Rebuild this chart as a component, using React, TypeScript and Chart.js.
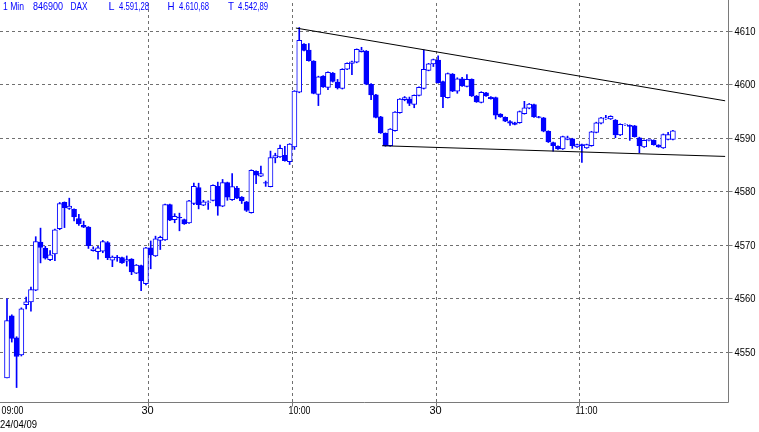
import React, { useEffect, useRef } from "react";
import { Chart, registerables } from "chart.js";
Chart.register(...registerables);

// one candle per minute, starting 09:00
const opens = [
  4545.1, 4556.7, 4552.6, 4549.4, 4558.8, 4559.3, 4561.5, 4570.5, 4569.3, 4567.2,
  4568.3, 4573.0, 4577.9, 4576.8, 4576.6, 4574.9, 4573.6, 4573.3, 4568.9, 4568.7,
  4568.8, 4570.4, 4567.1, 4567.7, 4567.6, 4566.9, 4567.3, 4564.7, 4566.1, 4562.7,
  4569.4, 4567.9, 4570.8, 4570.9, 4577.5, 4574.7, 4575.1, 4574.7, 4574.05, 4577.7,
  4580.7, 4577.4, 4577.9, 4578.3, 4580.9, 4577.2, 4581.6, 4578.4, 4580.6, 4578.9,
  4578.0, 4576.0, 4583.7, 4582.8, 4581.6, 4580.85, 4586.2, 4586.4, 4586.7, 4585.5,
  4588.3, 4598.5, 4607.5, 4606.4, 4604.3, 4598.1, 4601.5, 4599.4, 4602.1, 4600.4,
  4599.2, 4602.8, 4603.9, 4604.1, 4606.1, 4606.2, 4600.0, 4598.0, 4593.9, 4590.8,
  4588.5, 4591.3, 4594.7, 4597.1, 4597.2, 4596.2, 4597.9, 4599.2, 4602.6, 4603.8,
  4604.5, 4600.5, 4597.5, 4601.9, 4598.7, 4601.0, 4599.6, 4600.9, 4597.8, 4596.6,
  4598.4, 4597.6, 4597.5, 4594.4, 4593.8, 4593.0, 4592.8, 4592.8, 4594.5, 4595.5,
  4596.2, 4593.9, 4593.7, 4591.2, 4589.1, 4588.4, 4587.9, 4589.7, 4589.8, 4588.3,
  4588.7, 4588.1, 4588.5, 4591.0, 4592.7, 4593.5, 4593.5, 4593.3, 4590.5, 4592.4,
  4592.3, 4592.2, 4590.0, 4588.3, 4589.5, 4589.5, 4588.6, 4588.1, 4589.7, 4589.7,
];
const highs = [
  4559.9, 4556.9, 4552.8, 4558.2, 4560.2, 4562.1, 4571.5, 4573.1, 4569.7, 4568.9,
  4572.9, 4577.9, 4578.0, 4578.7, 4576.7, 4575.7, 4574.4, 4573.4, 4569.6, 4569.7,
  4570.8, 4570.6, 4567.9, 4568.0, 4567.7, 4567.9, 4567.4, 4566.3, 4566.2, 4569.5,
  4570.7, 4571.6, 4571.6, 4577.6, 4577.6, 4575.8, 4575.9, 4574.8, 4578.3, 4581.5,
  4581.5, 4578.3, 4578.2, 4581.2, 4581.7, 4582.2, 4581.7, 4583.3, 4580.9, 4579.0,
  4578.1, 4584.0, 4583.8, 4584.7, 4581.9, 4587.5, 4587.1, 4588.6, 4588.4, 4588.9,
  4598.8, 4610.6, 4607.6, 4607.6, 4604.4, 4601.5, 4601.6, 4602.3, 4602.2, 4600.9,
  4602.9, 4604.0, 4604.3, 4606.6, 4606.9, 4606.3, 4600.1, 4598.1, 4594.0, 4590.9,
  4591.7, 4594.9, 4597.3, 4597.7, 4597.6, 4598.0, 4599.5, 4606.4, 4603.9, 4604.7,
  4605.3, 4600.6, 4602.1, 4602.0, 4601.2, 4601.3, 4601.8, 4601.0, 4597.9, 4598.6,
  4598.5, 4597.7, 4597.6, 4594.5, 4593.9, 4593.2, 4592.9, 4595.0, 4596.8, 4596.4,
  4596.3, 4594.0, 4593.8, 4591.3, 4589.2, 4588.5, 4590.3, 4590.3, 4589.9, 4588.8,
  4588.8, 4588.8, 4591.2, 4592.9, 4593.8, 4594.2, 4594.1, 4593.4, 4592.6, 4592.6,
  4592.4, 4592.3, 4590.1, 4589.6, 4589.8, 4589.6, 4588.7, 4590.7, 4591.0, 4591.4,
];
const lows = [
  4545.1, 4551.8, 4543.3, 4549.2, 4558.0, 4557.6, 4561.4, 4566.6, 4567.3, 4567.0,
  4567.0, 4572.8, 4573.2, 4576.6, 4574.45, 4573.6, 4573.2, 4569.3, 4568.8, 4567.3,
  4568.5, 4567.2, 4565.9, 4566.9, 4566.5, 4566.0, 4564.4, 4564.6, 4561.4, 4562.5,
  4565.5, 4567.8, 4569.1, 4570.8, 4574.5, 4574.1, 4572.6, 4573.8, 4574.0, 4577.5,
  4576.7, 4577.3, 4576.6, 4578.2, 4575.5, 4577.1, 4578.3, 4578.3, 4578.6, 4577.7,
  4576.2, 4575.9, 4581.4, 4582.7, 4580.9, 4580.8, 4585.3, 4586.3, 4585.6, 4585.0,
  4587.8, 4598.4, 4606.2, 4604.3, 4598.2, 4596.0, 4599.4, 4599.0, 4600.4, 4599.1,
  4599.1, 4602.7, 4601.8, 4604.0, 4606.0, 4599.9, 4597.1, 4593.7, 4590.8, 4588.4,
  4588.4, 4591.2, 4594.6, 4596.9, 4596.0, 4595.6, 4597.8, 4599.1, 4602.5, 4603.3,
  4600.2, 4595.6, 4597.4, 4598.6, 4598.3, 4599.6, 4599.5, 4597.7, 4596.6, 4596.5,
  4597.7, 4597.2, 4593.5, 4593.8, 4593.0, 4592.3, 4592.4, 4592.7, 4594.4, 4595.4,
  4593.8, 4593.7, 4591.1, 4589.1, 4587.5, 4587.8, 4587.8, 4589.6, 4588.0, 4588.2,
  4585.4, 4588.0, 4588.4, 4590.9, 4592.6, 4593.4, 4593.4, 4590.0, 4590.4, 4592.3,
  4589.5, 4590.1, 4587.2, 4588.2, 4589.4, 4588.6, 4588.2, 4588.0, 4589.6, 4589.6,
];
const closes = [
  4555.8, 4552.5, 4549.1, 4558.0, 4559.3, 4561.6, 4570.6, 4569.5, 4567.5, 4568.1,
  4572.8, 4577.7, 4576.9, 4577.2, 4575.2, 4573.9, 4573.3, 4569.8, 4569.2, 4569.4,
  4570.6, 4567.6, 4567.7, 4567.6, 4566.6, 4567.2, 4564.9, 4566.2, 4563.25, 4569.4,
  4568.1, 4571.1, 4571.4, 4577.5, 4574.6, 4575.3, 4575.0, 4573.9, 4578.2, 4580.9,
  4577.5, 4578.0, 4578.0, 4581.1, 4577.2, 4581.6, 4578.9, 4580.85, 4578.7, 4578.2,
  4576.4, 4583.9, 4583.0, 4583.3, 4581.5, 4586.3, 4586.65, 4588.0, 4585.7, 4588.8,
  4598.7, 4608.2, 4606.3, 4604.4, 4598.3, 4601.4, 4599.5, 4602.2, 4600.5, 4599.3,
  4602.8, 4603.9, 4604.2, 4606.5, 4606.4, 4600.0, 4598.0, 4593.8, 4590.9, 4588.5,
  4591.6, 4594.8, 4597.2, 4597.5, 4596.4, 4597.9, 4599.4, 4602.8, 4603.8, 4604.6,
  4600.3, 4597.65, 4602.0, 4598.7, 4601.0, 4599.7, 4600.9, 4597.8, 4596.7, 4598.5,
  4597.8, 4597.3, 4594.2, 4593.9, 4593.1, 4592.7, 4592.5, 4594.9, 4595.6, 4596.3,
  4593.9, 4593.8, 4591.2, 4589.2, 4588.5, 4587.9, 4590.2, 4590.0, 4588.5, 4588.7,
  4588.5, 4588.7, 4591.1, 4592.8, 4593.7, 4593.7, 4594.0, 4590.5, 4592.5, 4592.5,
  4592.1, 4590.2, 4588.5, 4589.5, 4589.7, 4588.7, 4588.3, 4590.6, 4590.6, 4591.3,
];

const priceTicks = [4550, 4560, 4570, 4580, 4590, 4600, 4610];
const timeTickMinutes = [0, 30, 60, 90, 120];
const timeTickLabels = ["09:00", "30", "10:00", "30", "11:00"];
const dateLabel = "24/04/09";
const headerTexts = ["1 Min", "846900", "DAX", "L", "4.591,28", "H", "4.610,68", "T", "4.542,89"];
const upperTrend = [{ x: 60.3, y: 4610.5 }, { x: 149.9, y: 4596.9 }];
const lowerTrend = [{ x: 78.3, y: 4588.5 }, { x: 149.9, y: 4586.5 }];

export default function App() {
  const ref = useRef<HTMLCanvasElement>(null);
  useEffect(() => {
    document.body.style.margin = "0";
    const canvas = ref.current!;
    const blue = "#0000ff";
    const idx = opens.map((_, i) => i);
    const bodies = idx.map((i) => ({ x: i, y: [opens[i], closes[i]] }));
    const wicks = idx.map((i) => ({ x: i, y: [lows[i], highs[i]] }));
    const bodyFill = idx.map((i) => (closes[i] >= opens[i] ? "#ffffff" : blue));
    const font = '11px "Liberation Sans", Arial, sans-serif';

    const overlay = {
      id: "overlay",
      beforeDatasetsDraw(chart: any) {
        const { ctx, chartArea: a, scales } = chart;
        const x = scales.x, y = scales.y;
        ctx.save();
        ctx.strokeStyle = "#707070";
        ctx.lineWidth = 1;
        ctx.setLineDash([3, 3]);
        priceTicks.forEach((v) => {
          const py = Math.round(y.getPixelForValue(v)) + 0.5;
          ctx.beginPath(); ctx.moveTo(a.left, py); ctx.lineTo(a.right, py); ctx.stroke();
        });
        timeTickMinutes.forEach((m) => {
          if (m === 0) return;
          const px = Math.round(x.getPixelForValue(m - 0.5)) + 0.5;
          ctx.beginPath(); ctx.moveTo(px, a.top + 3); ctx.lineTo(px, a.bottom); ctx.stroke();
        });
        ctx.restore();
      },
      afterDraw(chart: any) {
        const { ctx, chartArea: a, scales } = chart;
        const x = scales.x, y = scales.y;
        ctx.save();
        ctx.setLineDash([]);
        ctx.strokeStyle = "#7a7a7a";
        ctx.lineWidth = 1;
        const rx = Math.round(a.right) + 0.5;
        const by = Math.round(a.bottom) + 0.5;
        ctx.beginPath();
        ctx.moveTo(a.left, by); ctx.lineTo(rx, by); ctx.lineTo(rx, a.top);
        ctx.stroke();
        ctx.font = font;
        ctx.fillStyle = "#000";
        ctx.textBaseline = "middle";
        ctx.textAlign = "left";
        priceTicks.forEach((v) => {
          const py = Math.round(y.getPixelForValue(v)) + 0.5;
          ctx.beginPath(); ctx.moveTo(rx, py); ctx.lineTo(rx + 4, py); ctx.stroke();
          ctx.fillText(String(v), rx + 6, py + 0.5, 21);
        });
        timeTickMinutes.forEach((m, k) => {
          const px = Math.round(x.getPixelForValue(m - 0.5)) + 0.5;
          if (m !== 0) {
            ctx.beginPath(); ctx.moveTo(px, by); ctx.lineTo(px, by + 4); ctx.stroke();
          }
          const label = timeTickLabels[k];
          if (label.length > 2) {
            ctx.textAlign = "left";
            ctx.fillText(label, Math.max(0, px - 4), by + 8.5, 22);
          } else {
            ctx.textAlign = "center";
            ctx.fillText(label, px - 1, by + 8.5);
          }
        });
        ctx.textAlign = "left";
        ctx.fillText(dateLabel, 0, by + 22, 37);
        // header
        ctx.fillStyle = blue;
        const hx = [3, 33, 70.5, 108.5, 119, 167.5, 179, 228, 238];
        const hw = [21, 30, 17, 6, 30, 7, 30, 6, 30];
        headerTexts.forEach((t, k) => ctx.fillText(t, hx[k], 6.5, hw[k]));
        ctx.restore();
      },
    };

    const chart = new Chart(canvas, {
      type: "bar",
      data: {
        datasets: [
          {
            type: "line",
            data: upperTrend,
            borderColor: "#000",
            borderWidth: 1,
            pointRadius: 0,
            order: 0,
          } as any,
          {
            type: "line",
            data: lowerTrend,
            borderColor: "#000",
            borderWidth: 1,
            pointRadius: 0,
            order: 0,
          } as any,
          {
            type: "bar",
            data: bodies,
            backgroundColor: bodyFill,
            borderColor: blue,
            borderWidth: 1,
            borderSkipped: false,
            barThickness: 5,
            grouped: false,
            order: 1,
          } as any,
          {
            type: "bar",
            data: wicks,
            backgroundColor: blue,
            borderWidth: 0,
            barThickness: 1,
            grouped: false,
            order: 2,
          } as any,
        ],
      },
      options: {
        responsive: false,
        devicePixelRatio: 1,
        animation: false,
        layout: { padding: { left: 0, top: 0, right: 31, bottom: 30 } },
        plugins: { legend: { display: false }, tooltip: { enabled: false } },
        scales: {
          x: { type: "linear", min: -1.46, max: 150.5, offset: false, display: false },
          y: { type: "linear", min: 4540.6, max: 4615.74, display: false },
        },
      } as any,
      plugins: [overlay],
    });
    return () => chart.destroy();
  }, []);
  return (
    <div style={{ position: "fixed", left: 0, top: 0, width: 759, height: 432, background: "#fff" }}>
      <canvas ref={ref} width={759} height={432} style={{ display: "block" }} />
    </div>
  );
}
